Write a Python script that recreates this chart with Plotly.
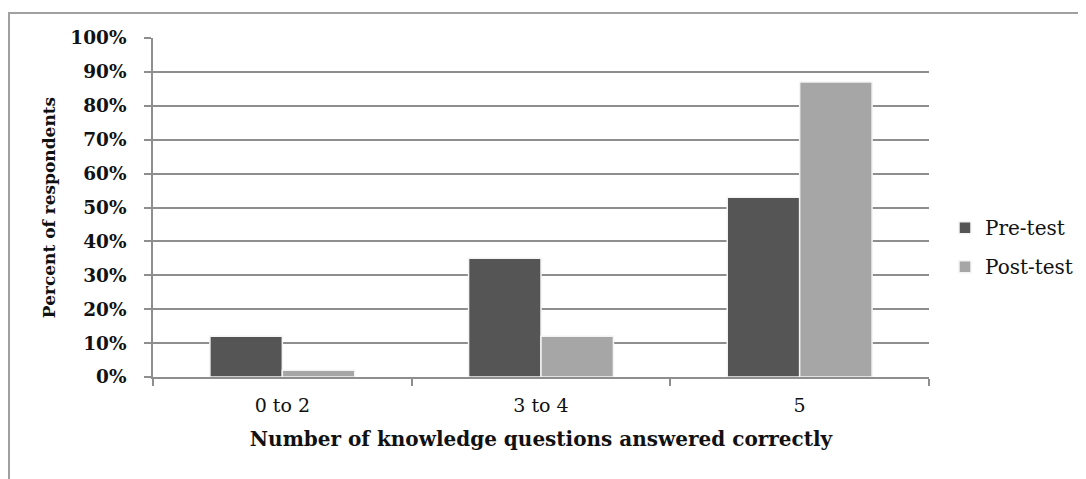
import plotly.graph_objects as go

categories = ["0 to 2", "3 to 4", "5"]
pre_test = [12, 35, 53]
post_test = [2, 12, 87]
y_ticks = [0, 10, 20, 30, 40, 50, 60, 70, 80, 90, 100]
y_tick_labels = [f"{v}%" for v in y_ticks]

# page is rendered with an 8px body margin, so positions below are in figure coords
W, H = 1086, 479
L, R, T, B = 145, 165, 30, 110
pw, ph = W - L - R, H - T - B

serif = "DejaVu Serif"
grid = "#8e8e8e"
txt = "#111111"

fig = go.Figure()
fig.add_trace(go.Bar(x=categories, y=pre_test, name="Pre-test", legendgroup="a",
                     marker=dict(color="#555555", line=dict(color="#f4f4f4", width=1.5))))
fig.add_trace(go.Bar(x=categories, y=post_test, name="Post-test", legendgroup="b",
                     marker=dict(color="#a6a6a6", line=dict(color="#f4f4f4", width=1.5))))

def px_x(x):
    return (x - L) / pw

def px_y(y):
    return (H - B - y) / ph

border = dict(color="#a0a0a0", width=2)
fig.add_shape(type="line", xref="paper", yref="paper", x0=px_x(0), x1=px_x(1095),
              y0=px_y(5), y1=px_y(5), line=border)
fig.add_shape(type="line", xref="paper", yref="paper", x0=px_x(1), x1=px_x(1),
              y0=px_y(5), y1=px_y(490), line=border)

fig.update_layout(
    width=W, height=H,
    margin=dict(l=L, r=R, t=T, b=B),
    paper_bgcolor="white", plot_bgcolor="white",
    barmode="group", bargap=0.44, bargroupgap=0.0,
    font=dict(family=serif, size=18, color=txt),
    showlegend=True,
    legend=dict(x=1.0206, y=0.383, xanchor="left", yanchor="middle",
                font=dict(family=serif, size=20, color=txt),
                tracegroupgap=10, bgcolor="rgba(0,0,0,0)"),
    xaxis=dict(
        showline=True, linecolor=grid, linewidth=1.5,
        ticks="outside", tickson="boundaries", ticklen=7, tickcolor=grid, tickwidth=1.5,
        ticklabelstandoff=10,
        tickfont=dict(family=serif, size=19, color=txt),
        title=dict(text="<b>Number of knowledge questions answered correctly</b>",
                   font=dict(family=serif, size=20, color=txt), standoff=17),
        showgrid=False,
    ),
    yaxis=dict(
        range=[0, 100], tickvals=y_ticks, ticktext=[f"<b>{t}</b>" for t in y_tick_labels],
        showline=True, linecolor=grid, linewidth=1.5,
        showgrid=True, gridcolor=grid, gridwidth=1.5,
        ticks="outside", ticklen=7, tickcolor=grid, tickwidth=1.5,
        ticklabelstandoff=14,
        tickfont=dict(family=serif, size=18.5, color=txt),
        title=dict(text="<b>Percent of respondents</b>",
                   font=dict(family=serif, size=17, color=txt), standoff=10),
        zeroline=False,
    ),
)

fig.write_html("out.html")
